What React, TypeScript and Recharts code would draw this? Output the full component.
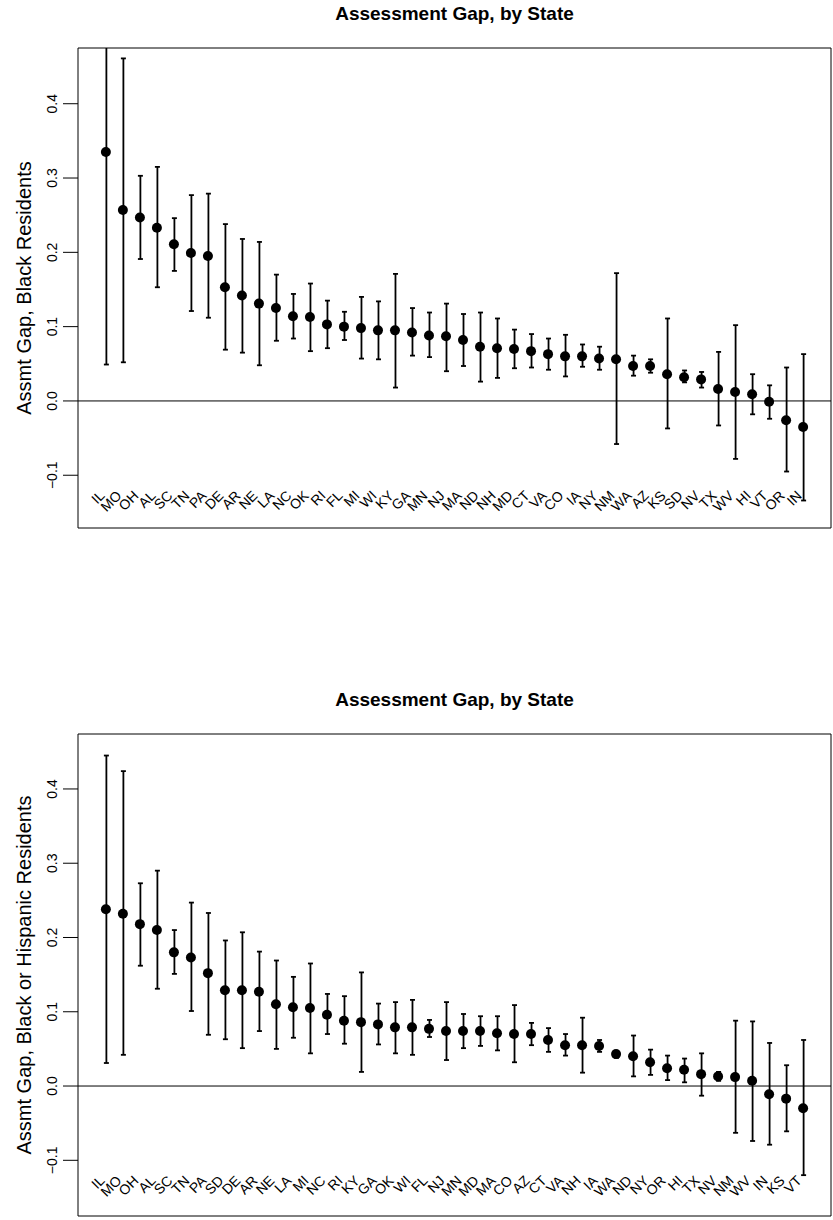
import { ComposedChart, Scatter, Bar, XAxis, YAxis, ReferenceLine, ReferenceArea } from "recharts";

const FONT = '"Liberation Sans", Arial, Helvetica, sans-serif';

const Y_TICKS = [-0.1, 0, 0.1, 0.2, 0.3, 0.4];

// panel 1: Black residents
const STATES_BLACK = ["IL", "MO", "OH", "AL", "SC", "TN", "PA", "DE", "AR", "NE", "LA", "NC", "OK", "RI", "FL", "MI", "WI", "KY", "GA", "MN", "NJ", "MA", "ND", "NH", "MD", "CT", "VA", "CO", "IA", "NY", "NM", "WA", "AZ", "KS", "SD", "NV", "TX", "WV", "HI", "VT", "OR", "IN"];
const EST_BLACK = [0.335, 0.257, 0.247, 0.233, 0.211, 0.199, 0.195, 0.153, 0.142, 0.131, 0.125, 0.114, 0.113, 0.103, 0.1, 0.098, 0.095, 0.095, 0.092, 0.088, 0.087, 0.082, 0.073, 0.071, 0.07, 0.067, 0.063, 0.06, 0.06, 0.057, 0.056, 0.047, 0.047, 0.036, 0.032, 0.029, 0.016, 0.012, 0.009, -0.001, -0.026, -0.035];
const LO_BLACK = [0.049, 0.052, 0.191, 0.153, 0.175, 0.121, 0.112, 0.069, 0.065, 0.048, 0.081, 0.084, 0.067, 0.071, 0.082, 0.057, 0.056, 0.018, 0.061, 0.059, 0.04, 0.047, 0.026, 0.031, 0.044, 0.045, 0.042, 0.033, 0.046, 0.042, -0.058, 0.034, 0.038, -0.037, 0.025, 0.018, -0.033, -0.078, -0.018, -0.024, -0.095, -0.134];
const HI_BLACK = [0.621, 0.461, 0.303, 0.315, 0.246, 0.277, 0.279, 0.238, 0.218, 0.214, 0.17, 0.144, 0.158, 0.135, 0.12, 0.14, 0.134, 0.171, 0.125, 0.119, 0.131, 0.117, 0.119, 0.111, 0.096, 0.09, 0.084, 0.089, 0.076, 0.073, 0.172, 0.061, 0.056, 0.111, 0.041, 0.039, 0.066, 0.102, 0.036, 0.021, 0.045, 0.063];

// panel 2: Black or Hispanic residents
const STATES_BH = ["IL", "MO", "OH", "AL", "SC", "TN", "PA", "SD", "DE", "AR", "NE", "LA", "MI", "NC", "RI", "KY", "GA", "OK", "WI", "FL", "NJ", "MN", "MD", "MA", "CO", "AZ", "CT", "VA", "NH", "IA", "WA", "ND", "NY", "OR", "HI", "TX", "NV", "NM", "WV", "IN", "KS", "VT"];
const EST_BH = [0.238, 0.232, 0.218, 0.21, 0.18, 0.173, 0.152, 0.129, 0.129, 0.127, 0.11, 0.106, 0.105, 0.096, 0.088, 0.086, 0.083, 0.079, 0.079, 0.077, 0.074, 0.074, 0.074, 0.071, 0.07, 0.07, 0.062, 0.055, 0.055, 0.054, 0.043, 0.04, 0.032, 0.024, 0.022, 0.016, 0.013, 0.012, 0.007, -0.011, -0.017, -0.03];
const LO_BH = [0.031, 0.042, 0.162, 0.131, 0.151, 0.101, 0.069, 0.063, 0.051, 0.074, 0.05, 0.065, 0.044, 0.07, 0.057, 0.019, 0.056, 0.044, 0.042, 0.066, 0.035, 0.051, 0.054, 0.048, 0.032, 0.055, 0.046, 0.041, 0.018, 0.046, 0.038, 0.013, 0.015, 0.008, 0.005, -0.013, 0.007, -0.063, -0.074, -0.079, -0.061, -0.12];
const HI_BH = [0.445, 0.424, 0.273, 0.29, 0.21, 0.247, 0.233, 0.196, 0.207, 0.181, 0.169, 0.147, 0.165, 0.124, 0.121, 0.153, 0.111, 0.113, 0.116, 0.089, 0.113, 0.097, 0.094, 0.094, 0.109, 0.085, 0.078, 0.07, 0.092, 0.062, 0.047, 0.068, 0.049, 0.041, 0.037, 0.044, 0.019, 0.088, 0.087, 0.058, 0.028, 0.062];

const fmtTick = (v: number) => (v < 0 ? "\u2212" + Math.abs(v).toFixed(1) : v.toFixed(1));

const Dot = (props: any) => <circle cx={props.cx} cy={props.cy} r={5} fill="#000" />;

// whisker drawn from the range bar; cut at the plot box like R does
const makeWhisker = (plotTop: number, plotBottom: number) => (p: any) => {
  const cx = p.x + p.width / 2;
  const y1 = Math.min(p.y, p.y + p.height);
  const y2 = Math.max(p.y, p.y + p.height);
  const a = Math.max(y1, plotTop);
  const b = Math.min(y2, plotBottom);
  return (
    <g stroke="#000" strokeWidth={1.8} fill="none">
      <line x1={cx} x2={cx} y1={a} y2={b} />
      {y1 >= plotTop && <line x1={cx - 2.5} x2={cx + 2.5} y1={y1} y2={y1} />}
      {y2 <= plotBottom && <line x1={cx - 2.5} x2={cx + 2.5} y1={y2} y2={y2} />}
    </g>
  );
};

function GapPanel({ states, est, lo, hi, yLabel, yDomain, height, bottom, lift }: any) {
  const data = states.map((s: string, i: number) => ({
    idx: i + 1,
    est: est[i],
    range: [lo[i], hi[i]],
  }));
  const xDomain = [1 - 1.64, states.length + 1.64];
  const top = 48;
  const whisker = makeWhisker(top, height - bottom - 1);

  return (
    <ComposedChart width={833} height={height} data={data} margin={{ top, right: 2, bottom, left: 0 }}>
      <XAxis
        type="number"
        dataKey="idx"
        domain={xDomain}
        allowDataOverflow
        ticks={data.map((d: any) => d.idx)}
        interval={0}
        axisLine={false}
        tickLine={false}
        tickSize={0}
        height={1}
        tick={(p: any) => {
          const tx = p.x - 4;
          const ty = p.y - lift;
          return (
            <text
              x={tx}
              y={ty}
              textAnchor="end"
              dominantBaseline="central"
              transform={`rotate(-45 ${tx} ${ty})`}
              fontSize={14}
              fontFamily={FONT}
              fill="#000"
            >
              {states[p.payload.value - 1]}
            </text>
          );
        }}
      />
      <YAxis
        type="number"
        domain={yDomain}
        allowDataOverflow
        ticks={Y_TICKS}
        width={78}
        axisLine={false}
        tickSize={15}
        tickLine={{ stroke: "#000", strokeWidth: 1 }}
        tick={(p: any) => (
          <text
            x={57}
            y={p.y}
            textAnchor="middle"
            transform={`rotate(-90 57 ${p.y})`}
            fontSize={14}
            fontFamily={FONT}
            fill="#000"
          >
            {fmtTick(p.payload.value)}
          </text>
        )}
        label={{
          content: (p: any) => {
            const vb = p.viewBox;
            const cy = vb.y + vb.height / 2;
            return (
              <text
                x={31}
                y={cy}
                textAnchor="middle"
                transform={`rotate(-90 31 ${cy})`}
                fontSize={20}
                fontFamily={FONT}
                fill="#000"
              >
                {yLabel}
              </text>
            );
          },
        }}
      />
      <ReferenceArea
        x1={xDomain[0]}
        x2={xDomain[1]}
        y1={yDomain[0]}
        y2={yDomain[1]}
        fill="none"
        stroke="#000"
        strokeWidth={1}
        ifOverflow="visible"
      />
      <ReferenceLine y={0} stroke="#000" strokeWidth={1} />
      <Bar dataKey="range" barSize={6} shape={whisker} isAnimationActive={false} />
      <Scatter dataKey="est" shape={Dot} isAnimationActive={false} />
    </ComposedChart>
  );
}

const titleStyle: any = {
  position: "absolute",
  left: 78,
  width: 753,
  textAlign: "center",
  fontFamily: FONT,
  fontWeight: "bold",
  fontSize: 19,
  lineHeight: "19px",
};

export default function App() {
  return (
    <div style={{ position: "absolute", left: 0, top: 0, width: 833, height: 1220, background: "#fff" }}>
      <div style={{ ...titleStyle, top: 4 }}>Assessment Gap, by State</div>
      <div style={{ position: "absolute", left: 0, top: 0 }}>
        <GapPanel
          states={STATES_BLACK}
          est={EST_BLACK}
          lo={LO_BLACK}
          hi={HI_BLACK}
          yLabel="Assmt Gap, Black Residents"
          yDomain={[-0.171, 0.475]}
          height={530}
          bottom={1}
          lift={37}
        />
      </div>
      <div style={{ ...titleStyle, top: 690 }}>Assessment Gap, by State</div>
      <div style={{ position: "absolute", left: 0, top: 686 }}>
        <GapPanel
          states={STATES_BH}
          est={EST_BH}
          lo={LO_BH}
          hi={HI_BH}
          yLabel="Assmt Gap, Black or Hispanic Residents"
          yDomain={[-0.175, 0.474]}
          height={534}
          bottom={3}
          lift={40}
        />
      </div>
    </div>
  );
}
